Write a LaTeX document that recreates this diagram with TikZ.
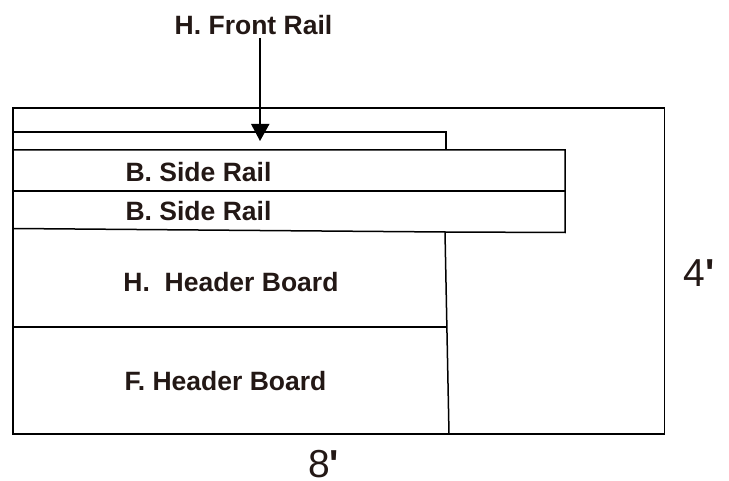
\documentclass[tikz,border=0pt]{standalone}
\usepackage{fontspec}
\setmainfont{Liberation Sans}
\newfontfamily\rawfont[Ligatures=NoCommon,BoldFont={Liberation Sans Bold}]{Liberation Sans}
\definecolor{ink}{HTML}{231815}
\tikzset{
  board/.style={draw=black,line width=1.5pt},
  lbl/.style={inner sep=0pt,text=ink,font=\fontsize{26.5}{30}\selectfont\bfseries},
  dim/.style={inner sep=0pt,text=ink,font=\fontsize{39}{44}\rawfont},
  pointer/.style={draw=black,line width=1.5pt}
}
\begin{document}
\begin{tikzpicture}[x=1pt,y=-1pt]
\useasboundingbox (0,0) rectangle (729,481);
% outer sheet
\draw[board] (13,108) rectangle (664.5,434);
% front rail
\draw[board] (13,132) -- (446,132) -- (446,150);
% side rails
\draw[board] (13,150) -- (565,150) -- (565,232.5) -- (445,232) -- (13,228.5);
\draw[board] (13,191) -- (565,191);
% header boards
\draw[board] (445,232) -- (449,434);
\draw[board] (13,327) -- (445.5,327);
% labels
\node[lbl] (front) at (253.5,25) {H. Front Rail};
\node[lbl] (side1) at (198.5,172.5) {B. Side Rail};
\node[lbl] (side2) at (198.5,211.5) {B. Side Rail};
\node[lbl] (hhead) at (231,282.5) {H.\ \ Header Board};
\node[lbl] (fhead) at (225.5,381) {F. Header Board};
\node[dim] (four) at (699,273.5) {4\textbf{'}};
\node[dim] (eight) at (323.5,464) {8\textbf{'}};
% pointer
\coordinate (tip) at (260,141);
\coordinate (tail) at (260,38);
\draw[pointer] (tail) -- (260,125);
\fill[black] (251,124) -- (269.5,124) -- (tip) -- cycle;
\end{tikzpicture}
\end{document}
